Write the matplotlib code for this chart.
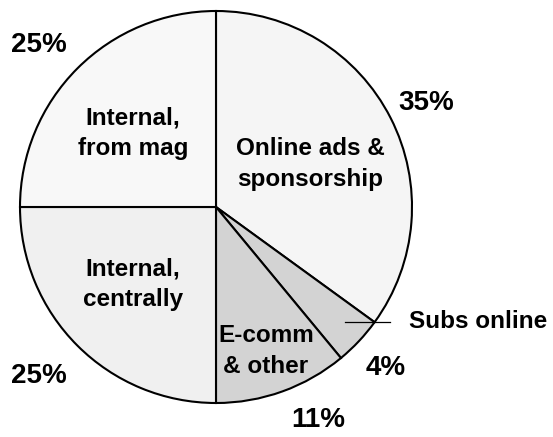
import matplotlib.pyplot as plt

# slices, clockwise from 12 o'clock
labels = ["Online ads &\nsponsorship", "Subs online", "E-comm\n& other",
          "Internal,\ncentrally", "Internal,\nfrom mag"]
shares = [35, 4, 11, 25, 25]
colors = ["#f5f5f5", "#d3d3d3", "#d3d3d3", "#f0f0f0", "#f8f8f8"]

plt.rcParams['font.family'] = ['Liberation Sans', 'DejaVu Sans']

W, H = 553, 437
cx, cy, r = 216, 207, 196


def px(x, y):
    # pixel position -> data units of the pie
    return (x - cx) / r, (cy - y) / r


fig = plt.figure(figsize=(W / 100, H / 100), dpi=100)
ax = fig.add_axes([0, 0, 1, 1])
ax.pie(shares, colors=colors, startangle=90, counterclock=False, radius=1,
       wedgeprops=dict(edgecolor='black', linewidth=1.5))
ax.set_xlim(-cx / r, (W - cx) / r)
ax.set_ylim(-(H - cy) / r, cy / r)
ax.set_aspect('equal')
ax.axis('off')

# label layout (pixel positions)
name_pos = [(310, 164), (409, 322), (266, 351), (133, 284), (133, 133)]
pct_pos = [(426, 103), (386, 368), (318, 420), (39, 376), (39, 45)]

for i, (lab, v) in enumerate(zip(labels, shares)):
    ha = 'left' if lab == "Subs online" else 'center'
    ax.text(*px(*name_pos[i]), lab, ha=ha, va='center', fontsize=17.5,
            fontweight='bold', linespacing=1.42)
    ax.text(*px(*pct_pos[i]), f"{v}%", ha='center', va='center',
            fontsize=20, fontweight='bold')

# leader line for the thin slice
ax.plot([px(345, 322)[0], px(390, 322)[0]], [px(345, 322)[1]] * 2,
        color='black', linewidth=0.9)

fig.savefig("out.png", dpi=100)
